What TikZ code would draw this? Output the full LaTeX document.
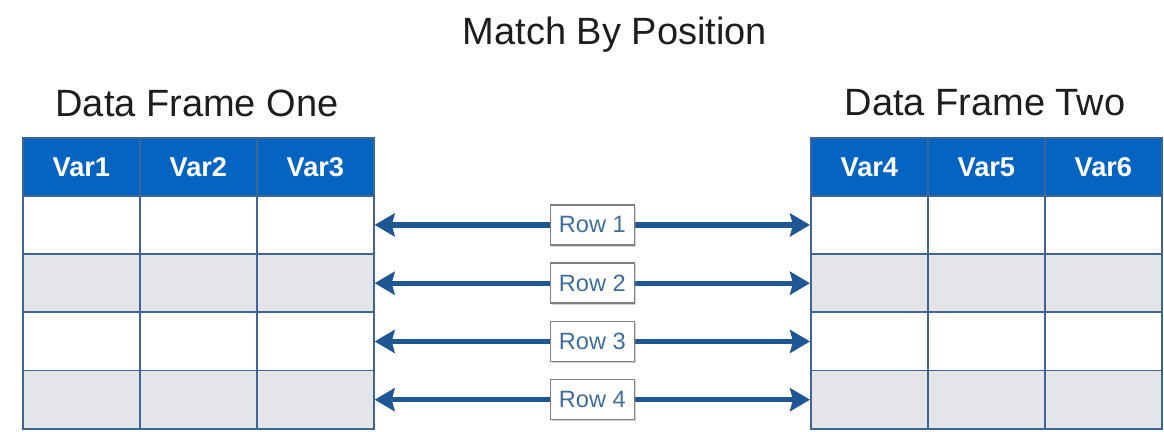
\documentclass[tikz,border=0pt]{standalone}
\usepackage{fontspec}
\setmainfont{Liberation Sans}
\usetikzlibrary{arrows.meta,shadows}

\definecolor{hdrblue}{RGB}{5,99,193}
\definecolor{gridblue}{RGB}{62,102,148}
\definecolor{rowgray}{RGB}{228,229,233}
\definecolor{arrowblue}{RGB}{31,86,148}
\definecolor{labelblue}{RGB}{62,110,160}
\definecolor{inkgray}{RGB}{30,30,30}

\tikzset{
  cell/.style={draw=gridblue, line width=0.85pt, minimum width=58.5pt,
    minimum height=29.1pt, inner sep=0pt, anchor=north west},
  hdrcell/.style={cell, fill=hdrblue, minimum height=29pt, text=white,
    font=\fontsize{13.6}{15}\selectfont\bfseries},
  caption/.style={text=inkgray, font=\fontsize{19}{22}\selectfont},
  link/.style={draw=arrowblue, line width=2.6pt,
    {Stealth[length=10pt,width=11.5pt,inset=1.5pt]}-{Stealth[length=10pt,width=11.5pt,inset=1.5pt]}},
  rowlabel/.style={draw=gray, line width=0.7pt, fill=white, text=labelblue,
    minimum width=42pt, minimum height=20pt, inner sep=0pt,
    font=\fontsize{11.8}{13}\selectfont,
    drop shadow={shadow xshift=0.8pt, shadow yshift=-0.9pt, opacity=0.35}}
}

\begin{document}
\begin{tikzpicture}[x=0.5pt, y=-0.5pt]
  \useasboundingbox (0,0) rectangle (1164,432);

  % titles
  \node[caption] (title) at (615,35) {Match By Position};
  \node[caption] (one) at (197,103) {Data Frame One};
  \node[caption] (two) at (985,103) {Data Frame Two};

  % header rows
  \foreach \v [count=\i] in {Var1,Var2,Var3}
    \node[hdrcell] (L-0-\i) at ({22+117*(\i-1)},137) {\v};
  \foreach \v [count=\i] in {Var4,Var5,Var6}
    \node[hdrcell] (R-0-\i) at ({810+117*(\i-1)},137) {\v};

  % body rows, white and gray in turn
  \foreach \r/\shade in {1/white,2/rowgray,3/white,4/rowgray}
    \foreach \i in {1,2,3} {
      \node[cell, fill=\shade] (L-\r-\i) at ({22+117*(\i-1)},{195+58.25*(\r-1)}) {};
      \node[cell, fill=\shade] (R-\r-\i) at ({810+117*(\i-1)},{195+58.25*(\r-1)}) {};
    }

  % row links
  \foreach \r in {1,...,4}
    \draw[link] (L-\r-3.east) -- (R-\r-1.west) node[rowlabel, pos=0.5] (row\r) {Row \r};
\end{tikzpicture}
\end{document}
